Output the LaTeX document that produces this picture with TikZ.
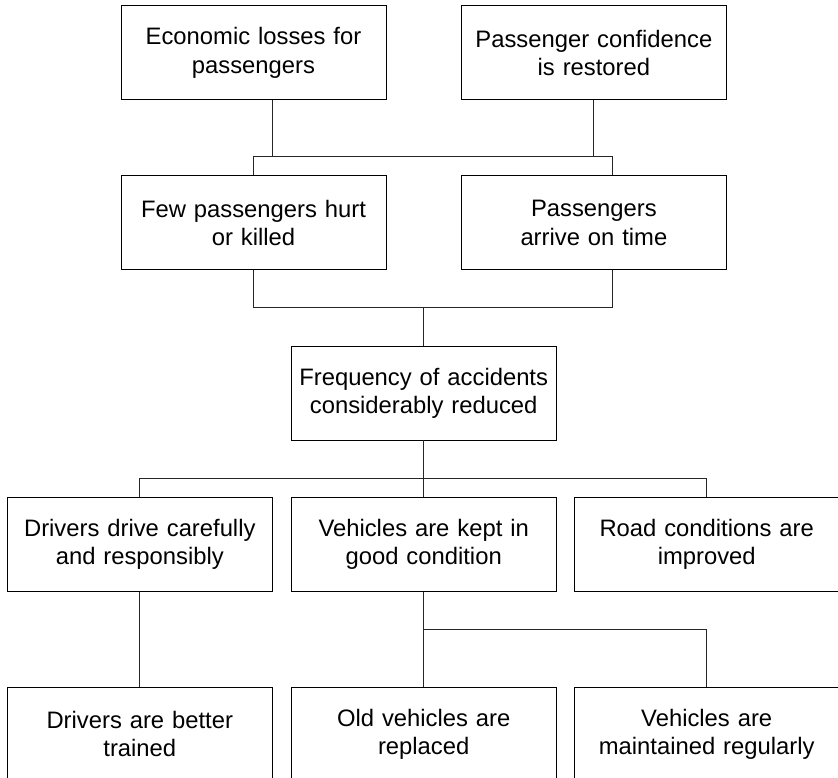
\documentclass[tikz,border=0pt]{standalone}
\usepackage{fontspec}
\setmainfont{Liberation Sans}
\usetikzlibrary{calc}

\tikzset{
  goalbox/.style={draw=black, line width=0.9pt, rectangle,
    minimum width=265pt, minimum height=94pt, inner sep=0pt,
    text width=262pt, align=center,
    font=\fontsize{23.8}{28.3}\selectfont},
  link/.style={draw=black!85, line width=0.9pt}
}

\begin{document}
\begin{tikzpicture}[x=1pt, y=-1pt]
  \useasboundingbox (0,0) rectangle (838,778);

  % top level
  \node[goalbox] (tl) at (253.5,52.8) {Economic losses for\\passengers};
  \node[goalbox] (tr) at (593.9,52.8) {Passenger confidence\\is restored};

  % second level
  \node[goalbox] (few) at (253.5,222.8) {Few passengers hurt\\or killed};
  \node[goalbox] (arr) at (593.9,222.8) {Passengers\\arrive on time};

  % core
  \node[goalbox] (freq) at (423.7,393.0) {Frequency of accidents\\considerably reduced};

  % causes
  \node[goalbox] (drv)  at (139.8,544.4) {Drivers drive carefully\\and responsibly};
  \node[goalbox] (veh)  at (423.7,544.4) {Vehicles are kept in\\good condition};
  \node[goalbox] (road) at (706.7,544.4) {Road conditions are\\improved};

  % sub-causes
  \node[goalbox] (trn) at (139.8,734.0) {Drivers are better\\trained};
  \node[goalbox] (old) at (423.7,734.0) {Old vehicles are\\replaced};
  \node[goalbox] (mnt) at (706.7,734.0) {Vehicles are\\maintained regularly};

  % bus lines
  \coordinate (tlx) at (272.3,156);
  \coordinate (b1l) at (253.5,156);
  \coordinate (b1r) at (612.3,156);
  \coordinate (b2r) at (612.3,307.5);
  \coordinate (b3)  at (0,478);
  \coordinate (b4)  at (0,629.3);

  % top boxes to second level
  \draw[link] (tlx |- tl.south) -- (tlx);
  \draw[link] (tr.south) -- (tr.south |- b1l);
  \draw[link] (few.north) -- (b1l) -- (b1r) -- (b1r |- arr.north);

  % second level to core
  \draw[link] (few.south) |- (b2r) -- (b2r |- arr.south);
  \draw[link] (freq.north) -- (freq.north |- b2r);

  % core to causes
  \draw[link] (freq.south) -- (veh.north);
  \draw[link] (drv.north) |- (road.north |- b3) -- (road.north);

  % causes to sub-causes
  \draw[link] (drv.south) -- (trn.north);
  \draw[link] (veh.south) -- (old.north);
  \draw[link] (veh.south |- b4) -| (mnt.north);
\end{tikzpicture}
\end{document}
